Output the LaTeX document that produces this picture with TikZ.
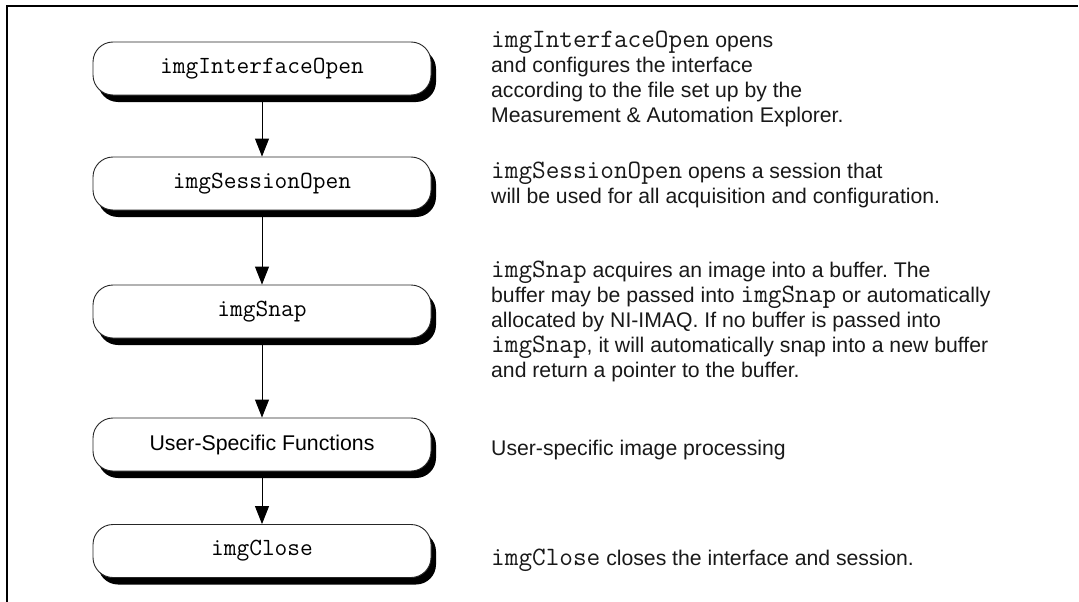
\documentclass[tikz,border=0pt]{standalone}
\usepackage{fontspec}
\setmainfont{Liberation Sans}
\usetikzlibrary{arrows.meta,shadows}
\newcommand{\cdbox}[1]{{\fontsize{24.7pt}{30pt}\ttfamily #1}}
\newcommand{\cdtxt}[1]{{\fontsize{26.5pt}{30pt}\ttfamily #1}}
\frenchspacing
\begin{document}
\begin{tikzpicture}[x=1pt,y=1pt,
  flowbox/.style={draw=black!85, line width=0.9pt, fill=white, rounded corners=20pt,
    minimum width=338pt, minimum height=53pt, inner sep=0pt,
    font=\fontsize{21.3pt}{25pt}\selectfont,
    drop shadow={shadow xshift=5pt, shadow yshift=-7pt, fill=black, opacity=1}},
  flowarrow/.style={line width=0.9pt, -{Triangle[width=14pt,length=18pt]}},
  desc/.style={anchor=base west, inner sep=0pt, text=black!90, font=\fontsize{21.2pt}{25pt}\selectfont}]
\useasboundingbox (0,0) rectangle (1079,-602);
\fill[white] (0,0) rectangle (1079,-602);
% frame
\draw[line width=2.5pt] (7,-602) -- (7,-6) -- (1078,-6);
% boxes
\node[flowbox] (n1) at (262,-68.5) {\cdbox{imgInterfaceOpen}};
\node[flowbox] (n2) at (262,-183.5) {\cdbox{imgSessionOpen}};
\node[flowbox] (n3) at (262,-311.5) {\cdbox{imgSnap}};
\node[flowbox] (n4) at (262,-444.5) {User-Specific Functions};
\node[flowbox] (n5) at (262,-551) {\cdbox{imgClose}};
% arrows
\draw[flowarrow] ([yshift=-7pt]n1.south) -- (n2.north);
\draw[flowarrow] ([yshift=-7pt]n2.south) -- (n3.north);
\draw[flowarrow] ([yshift=-7pt]n3.south) -- (n4.north);
\draw[flowarrow] ([yshift=-7pt]n4.south) -- (n5.north);
% descriptions
\node[desc] (d1a) at (491,-47.5) {\cdtxt{imgInterfaceOpen} opens};
\node[desc] (d1b) at (491,-72.5) {and configures the interface};
\node[desc] (d1c) at (491,-97.5) {according to the file set up by the};
\node[desc] (d1d) at (491,-122.5) {Measurement \& Automation Explorer.};
\node[desc] (d2a) at (491,-178) {\cdtxt{imgSessionOpen} opens a session that};
\node[desc] (d2b) at (491,-203.5) {will be used for all acquisition and configuration.};
\node[desc] (d3a) at (491,-277) {\cdtxt{imgSnap} acquires an image into a buffer. The};
\node[desc] (d3b) at (491,-302) {buffer may be passed into \cdtxt{imgSnap} or automatically};
\node[desc] (d3c) at (491,-327) {allocated by NI-IMAQ. If no buffer is passed into};
\node[desc] (d3d) at (491,-352) {\cdtxt{imgSnap}, it will automatically snap into a new buffer};
\node[desc] (d3e) at (491,-377) {and return a pointer to the buffer.};
\node[desc] (d4) at (491,-455) {User-specific image processing};
\node[desc] (d5) at (491,-565) {\cdtxt{imgClose} closes the interface and session.};
\end{tikzpicture}
\end{document}
